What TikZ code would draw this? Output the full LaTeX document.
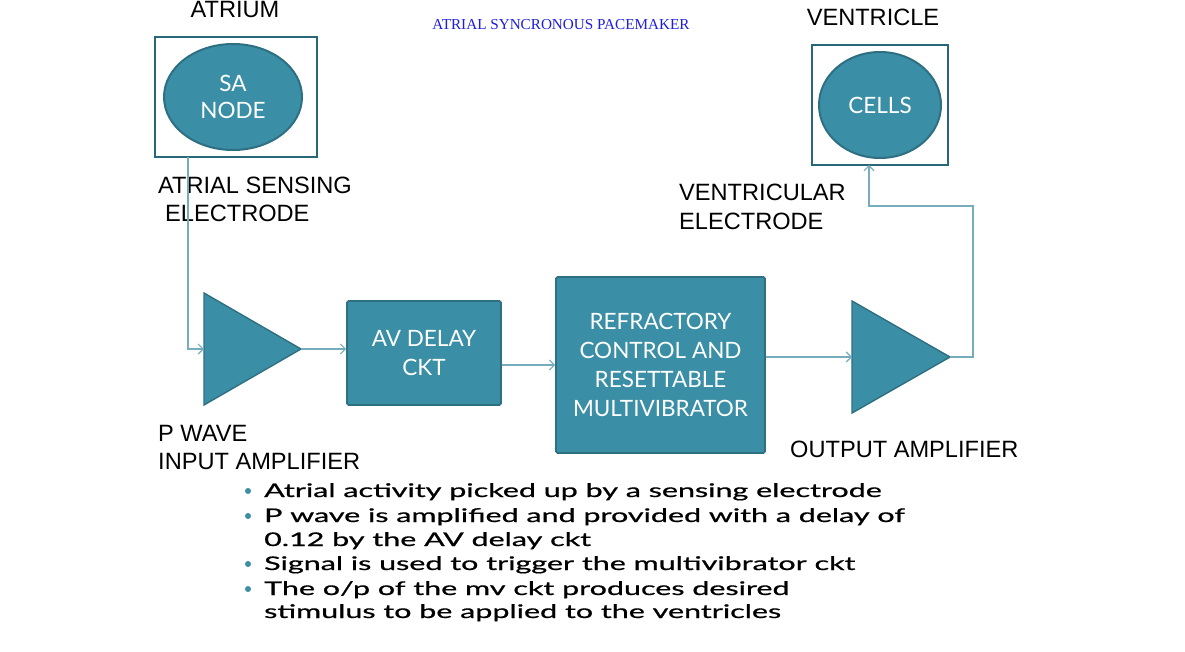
\documentclass[tikz,border=0pt]{standalone}
\usepackage{fontspec}
\setmainfont{Liberation Sans}
\newfontfamily\gill{Lato}
\newfontfamily\gillbul[FakeBold=0.6]{Lato}
\newfontfamily\timesf{Liberation Serif}
\usetikzlibrary{arrows.meta,shapes.geometric}
\definecolor{tealfill}{RGB}{58,142,165}
\definecolor{tealedge}{RGB}{46,112,130}
\definecolor{framecol}{RGB}{40,104,118}
\definecolor{conncol}{RGB}{118,172,188}
\definecolor{titleblue}{RGB}{30,30,220}
\newcommand{\wide}[1]{\scalebox{1.62}[1]{#1}}
\begin{document}
\begin{tikzpicture}[x=1pt,y=-1pt,
  frame/.style={draw=framecol,line width=2.6pt,minimum width=#1,inner sep=0pt},
  cellell/.style={ellipse,draw=tealedge,line width=2pt,fill=tealfill,text=white,inner sep=0pt,
     font=\gill\fontsize{22.5}{28}\selectfont,align=center},
  block/.style={draw=tealedge,line width=1.6pt,fill=tealfill,text=white,rounded corners=1.5pt,inner sep=0pt,
     font=\gill\fontsize{22.5}{29}\selectfont,align=center},
  lbl/.style={font=\fontsize{23.6}{29}\selectfont,inner sep=0pt,anchor=base west},
  conn/.style={draw=conncol,line width=1.1pt,-{Straight Barb[length=5pt,width=10pt]}},
  amp/.style={fill=tealfill,draw=tealedge,line width=1.4pt,line join=miter},
  bul/.style={font=\gillbul\fontsize{18.8}{24}\selectfont,inner sep=0pt,anchor=base west},
  dot/.style={fill=tealfill,draw=none}]
\useasboundingbox (0,0) rectangle (1185,651);
\fill[white] (0,0) rectangle (1185,651);

% title
\node[font=\timesf\fontsize{15.2}{15}\selectfont,text=titleblue,anchor=base,inner sep=0pt] (title) at (561,29) {ATRIAL SYNCRONOUS PACEMAKER};

% atrium
\node[lbl,anchor=base] (atrium) at (235,17) {ATRIUM};
\node[frame=162pt,minimum height=120pt] (lbox) at (236,97) {};
\node[cellell,minimum width=138pt,minimum height=106pt] (sanode) at (233,97) {SA\\[-1pt]NODE};

% ventricle
\node[lbl,anchor=base] (ventricle) at (873,25) {VENTRICLE};
\node[frame=136pt,minimum height=120pt] (rbox) at (880,105) {};
\node[cellell,minimum width=122pt,minimum height=106pt] (cells) at (880,105) {CELLS};

% labels
\node[lbl] (asens1) at (158,193) {ATRIAL SENSING};
\node[lbl] (asens2) at (165,221) {ELECTRODE};
\node[lbl] (vel1) at (679,200) {VENTRICULAR};
\node[lbl] (vel2) at (679,229) {ELECTRODE};
\node[lbl] (pw1) at (158,441) {P WAVE};
\node[lbl] (pw2) at (158,469) {INPUT AMPLIFIER};
\node[lbl] (oamp) at (790,457) {OUTPUT AMPLIFIER};

% amplifiers
\coordinate (t1in) at (204,349);
\coordinate (t1out) at (301,349);
\filldraw[amp] (204,293) -- (t1out) -- (204,405) -- cycle;
\coordinate (t2in) at (852,357);
\coordinate (t2out) at (950,357);
\filldraw[amp] (852,301) -- (t2out) -- (852,413) -- cycle;

% blocks
\node[block,minimum width=154pt,minimum height=104pt] (avd) at (424,353) {AV DELAY\\CKT};
\node[block,minimum width=209pt,minimum height=176pt] (refr) at (660.5,365) {REFRACTORY\\CONTROL AND\\RESETTABLE\\MULTIVIBRATOR};

% connectors
\coordinate (lout) at (188,157);
\coordinate (rin) at (869,165);
\draw[conn] (lout) |- (t1in);
\draw[conn] (t1out) -- (avd.west |- t1out);
\draw[conn] (avd.east |- 0,365) -- (refr.west |- 0,365);
\draw[conn] (refr.east |- t2in) -- (t2in);
\draw[conn] (t2out) -| (973,206) -| (rin);

% bullets
\foreach \y in {491,516,564,589} \fill[dot] (248,\y) circle (3pt);
\node[bul] (b1) at (264,497) {\wide{Atrial activity picked up by a sensing electrode}};
\node[bul] (b2) at (264,522) {\wide{P wave is amplified and provided with a delay of}};
\node[bul] (b3) at (264,546) {\wide{0.12 by the AV delay ckt}};
\node[bul] (b4) at (264,570) {\wide{Signal is used to trigger the multivibrator ckt}};
\node[bul] (b5) at (264,595) {\wide{The o/p of the mv ckt produces desired}};
\node[bul] (b6) at (264,618) {\wide{stimulus to be applied to the ventricles}};
\end{tikzpicture}
\end{document}
